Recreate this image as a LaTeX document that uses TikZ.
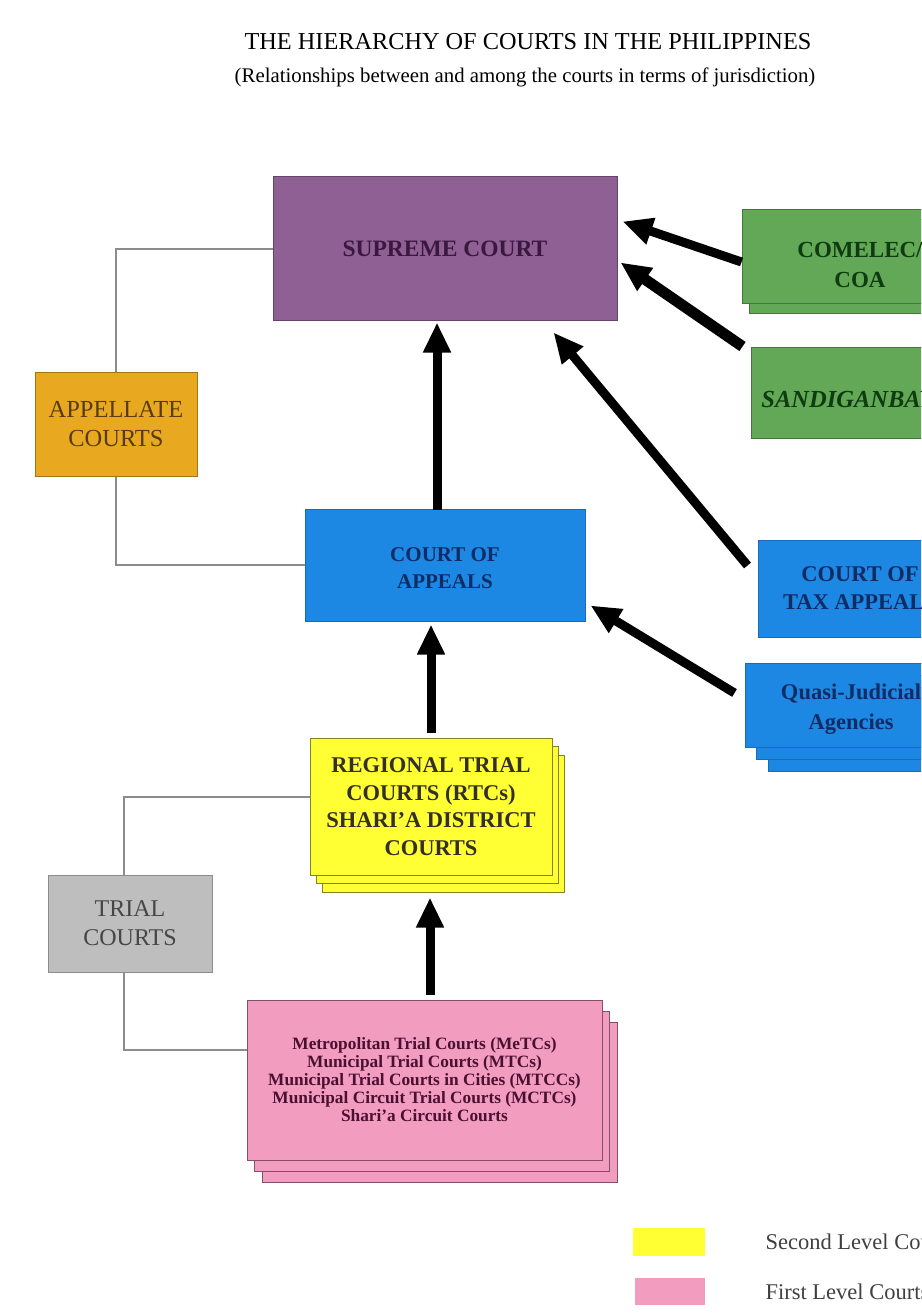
\documentclass[tikz,border=0pt]{standalone}
\usepackage{fontspec}
\setmainfont{Liberation Serif}
\usetikzlibrary{arrows.meta,calc,positioning,shadows}

\definecolor{scfill}{RGB}{143,96,148}
\definecolor{sctext}{RGB}{58,24,64}
\definecolor{apfill}{RGB}{232,169,32}
\definecolor{aptext}{RGB}{90,58,16}
\definecolor{bluefill}{RGB}{28,136,227}
\definecolor{bluetext}{RGB}{16,44,100}
\definecolor{rtcfill}{RGB}{255,255,51}
\definecolor{rtcdraw}{RGB}{130,130,40}
\definecolor{trialfill}{RGB}{190,190,190}
\definecolor{trialtext}{RGB}{70,70,70}
\definecolor{mtcfill}{RGB}{242,156,192}
\definecolor{mtcdraw}{RGB}{130,80,105}
\definecolor{mtctext}{RGB}{74,16,48}
\definecolor{greenfill}{RGB}{98,168,86}
\definecolor{greentext}{RGB}{14,60,16}

\tikzset{
  court/.style={draw, rectangle, align=center, line width=1pt, inner sep=2pt},
  link/.style={draw=black!45, line width=2pt},
  appeal/.style={-{Triangle[length=30pt,width=26pt]}, line width=9pt},
}

\begin{document}
\begin{tikzpicture}[x=1pt,y=-1pt]
\useasboundingbox (0,0) rectangle (921,1316);
\clip (0,0) rectangle (921,1316);

% titles
\node (title) at (528,42) {\fontsize{24.3}{27}\selectfont THE HIERARCHY OF COURTS IN THE PHILIPPINES};
\node (subtitle) at (525,77) {\fontsize{20.8}{23}\selectfont (Relationships between and among the courts in terms of jurisdiction)};

% main column
\node[court, fill=scfill, draw=scfill!70!black, text=sctext, minimum width=344pt, minimum height=143pt,
  font=\fontsize{23.5}{26}\selectfont\bfseries] (sc) at (445,248.5) {SUPREME COURT};
\node[court, fill=bluefill, draw=bluefill!80!black, text=bluetext, minimum width=280pt, minimum height=112pt,
  font=\fontsize{21}{27}\selectfont\bfseries] (ca) at (445,565) {\rule{0pt}{20pt}COURT OF\\APPEALS};
\node[court, fill=rtcfill, draw=rtcdraw, text=black!85!olive, minimum width=242pt, minimum height=137pt,
  double copy shadow={shadow xshift=6pt, shadow yshift=-8.5pt},
  font=\fontsize{22.5}{27.5}\selectfont\bfseries] (rtc) at (431,806.5) {REGIONAL TRIAL\\COURTS (RTCs)\\SHARI'A DISTRICT\\COURTS};
\node[court, fill=mtcfill, draw=mtcdraw, text=mtctext, minimum width=355pt, minimum height=160pt,
  double copy shadow={shadow xshift=7.5pt, shadow yshift=-11pt},
  font=\fontsize{17.3}{18}\selectfont\bfseries] (mtc) at (424.5,1080) {Metropolitan Trial Courts (MeTCs)\\Municipal Trial Courts (MTCs)\\Municipal Trial Courts in Cities (MTCCs)\\Municipal Circuit Trial Courts (MCTCs)\\Shari'a Circuit Courts};

% groups on the left
\node[court, fill=apfill, draw=apfill!70!black, text=aptext, minimum width=162pt, minimum height=104pt,
  font=\fontsize{24.5}{29}\selectfont] (appel) at (116,424) {APPELLATE\\COURTS};
\node[court, fill=trialfill, draw=black!45, text=trialtext, minimum width=164pt, minimum height=97pt,
  font=\fontsize{24}{29}\selectfont] (trial) at (130,923.5) {TRIAL\\COURTS};

% bodies on the right
\node[court, fill=greenfill, draw=greenfill!70!black, text=greentext, minimum width=236pt, minimum height=94pt,
  copy shadow={shadow xshift=7pt, shadow yshift=-10pt},
  font=\fontsize{23}{30}\selectfont\bfseries] (comelec) at (860,256) {\rule{0pt}{34pt}COMELEC/\\COA};
\node[court, fill=greenfill, draw=greenfill!70!black, text=greentext, minimum width=226pt, minimum height=91pt,
  font=\fontsize{24.5}{28}\selectfont\bfseries\itshape] (sandigan) at (864,392.5) {\rule{0pt}{30pt}SANDIGANBAYAN};
\node[court, fill=bluefill, draw=bluefill!80!black, text=bluetext, minimum width=204pt, minimum height=97pt,
  font=\fontsize{22.5}{28}\selectfont\bfseries] (cta) at (860,588.5) {COURT OF\\TAX APPEALS};
\node[court, fill=bluefill, draw=bluefill!80!black, text=bluetext, minimum width=212pt, minimum height=84pt,
  double copy shadow={shadow xshift=11.5pt, shadow yshift=-12pt},
  font=\fontsize{22.5}{30}\selectfont\bfseries] (quasi) at (851,705) {\rule{0pt}{24pt}Quasi-Judicial\\Agencies};

% grouping lines
\draw[link] (sc.west) -| (appel.north);
\draw[link] (appel.south) |- (ca.west);
\draw[link] ([yshift=10pt]rtc.west) -| ([xshift=-6pt]trial.north);
\draw[link] ([xshift=-6pt]trial.south) |- ([yshift=30pt]mtc.west);

% appeals
\draw[appeal, shorten <=-1pt, shorten >=2pt] ([xshift=-8pt]ca.north) -- ([xshift=-8pt]sc.south);
\draw[appeal, shorten <=5pt, shorten >=3pt] (rtc.north) -- (rtc.north |- ca.south);
\draw[appeal, shorten <=5pt, shorten >=22pt] ([xshift=5.5pt]mtc.north) -- ([xshift=5.5pt]mtc.north |- rtc.south);
\draw[appeal] ([yshift=-6pt]comelec.west) -- ([xshift=5pt,yshift=27pt]sc.east);
\draw[appeal, line width=11pt] ([xshift=-8pt]sandigan.north west) -- ([xshift=3pt,yshift=-14pt]sc.east);
\draw[appeal] ([xshift=-10pt,yshift=23pt]cta.west) -- ([xshift=-64pt,yshift=-12pt]sc.south east);
\draw[appeal] ([xshift=-10pt,yshift=12pt]quasi.west) -- ([xshift=5pt,yshift=16pt]ca.south east);

% legend
\node[fill=rtcfill, minimum width=72pt, minimum height=28pt, inner sep=0pt] (keysecond) at (669,1242) {};
\node[fill=mtcfill, minimum width=70pt, minimum height=27pt, inner sep=0pt] (keyfirst) at (670,1291.5) {};
\node[anchor=west, font=\fontsize{22.5}{25}\selectfont, text=black!75] (labsecond) at (762,1242) {Second Level Courts};
\node[anchor=west, font=\fontsize{22.5}{25}\selectfont, text=black!75] (labfirst) at (762,1291.5) {First Level Courts};
\end{tikzpicture}
\end{document}
